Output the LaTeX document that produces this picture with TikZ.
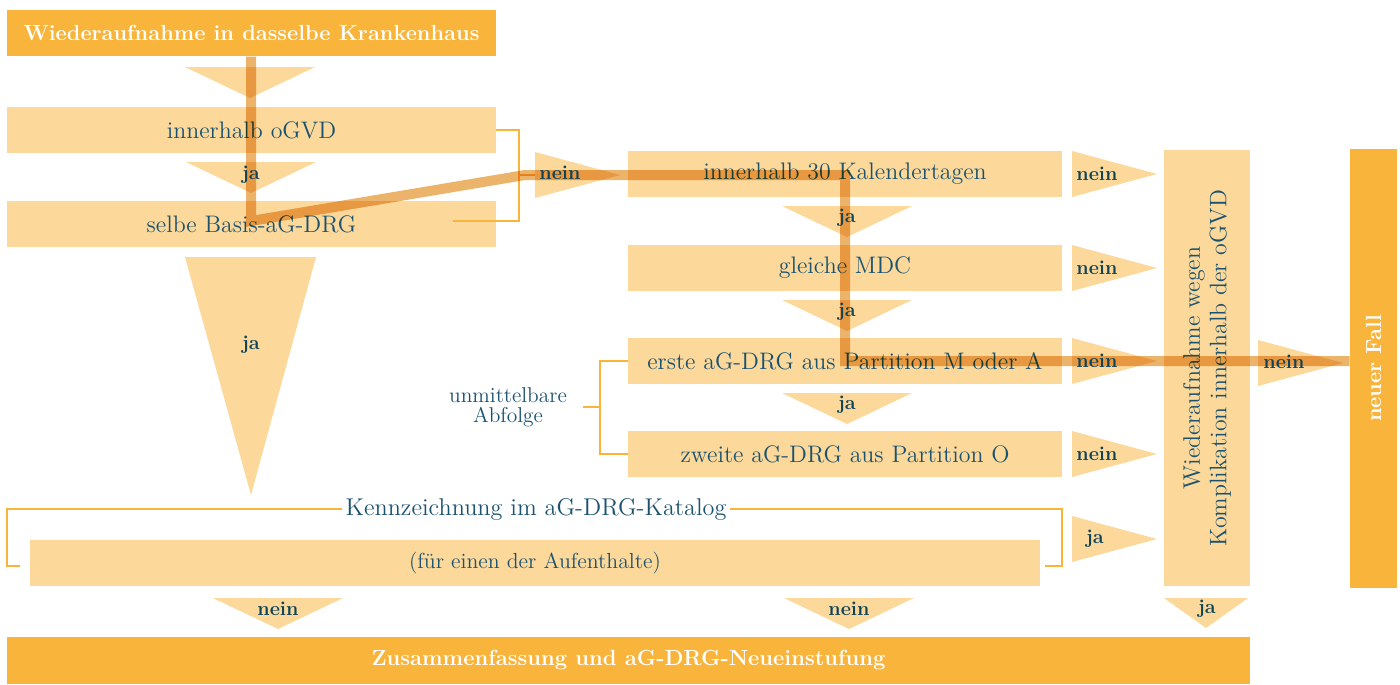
\documentclass[tikz,border=0pt]{standalone}
\usepackage{tikz}
\usetikzlibrary{positioning}
\usepackage{xcolor}

\definecolor{hell}{HTML}{FCD89A}
\definecolor{dunkel}{HTML}{F9B43B}
\definecolor{schrift}{HTML}{1A5270}
\definecolor{marke}{HTML}{0D4257}
\definecolor{pfad}{HTML}{EBB46A}

\begin{document}
\begin{tikzpicture}[x=0.02cm,y=-0.02cm,
  hbox/.style={fill=hell, text=schrift, minimum height=0.92cm, inner sep=0pt, font=\fontsize{13.6}{15}\selectfont},
  dbox/.style={fill=dunkel, text=white, minimum height=0.93cm, inner sep=0pt, font=\fontsize{12.4}{15}\selectfont\bfseries},
  lab/.style={text=marke, inner sep=0pt, font=\fontsize{11.3}{13}\selectfont\bfseries},
  klammer/.style={draw=dunkel, line width=0.05cm}]

\useasboundingbox (0,0) rectangle (1400,684);

%Dreiecke
\newcommand\runter[3]{\fill[hell] (#1-65,#2) -- (#1+65,#2) -- (#1,#2+31) -- cycle;}
\newcommand\rechts[2]{\fill[hell] (#1,#2-23) -- (#1,#2+23) -- (#1+85,#2) -- cycle;}

\runter{250}{67}{}
\runter{251}{162}{}
\fill[hell] (185,257) -- (316,257) -- (251,495) -- cycle;
\runter{847}{206}{}
\runter{847}{300}{}
\runter{847}{393}{}
\runter{278}{598}{}
\runter{849}{598}{}
\fill[hell] (1164,598) -- (1248,598) -- (1206,628) -- cycle;

\rechts{535}{175}
\foreach \y in {174,268,361,454,539} {\rechts{1072}{\y}}
\rechts{1258}{363}

%Kaesten
\node[dbox, minimum width=9.78cm] (haus) at (251.5,33) {Wiederaufnahme in dasselbe Krankenhaus};
\node[hbox, minimum width=9.78cm] (ogvd) at (251.5,130) {innerhalb oGVD};
\node[hbox, minimum width=9.78cm] (basis) at (251.5,224) {selbe Basis-aG-DRG};

\node[hbox, minimum width=8.68cm] (tage) at (845,174) {innerhalb 30 Kalendertagen};
\node[hbox, minimum width=8.68cm] (mdc) at (845,268) {gleiche MDC};
\node[hbox, minimum width=8.68cm] (erste) at (845,361) {erste aG-DRG aus Partition M oder A};
\node[hbox, minimum width=8.68cm] (zweite) at (845,454) {zweite aG-DRG aus Partition O};

\node[hbox, minimum width=20.2cm] (aufenthalt) at (535,563) {\fontsize{12.4}{13}\selectfont(für einen der Aufenthalte)};
\node[dbox, minimum width=24.86cm, font=\fontsize{12.5}{15}\selectfont\bfseries] (neu) at (628.5,660.5) {Zusammenfassung und aG-DRG-Neueinstufung};

\node[hbox, rotate=90, minimum width=8.72cm, minimum height=1.72cm, align=center] (kompl) at (1207,368)
  {Wiederaufnahme wegen\\Komplikation innerhalb der oGVD};
\node[dbox, rotate=90, minimum width=8.78cm, minimum height=0.94cm] (fall) at (1373.5,368.5) {neuer Fall};

%Klammern
\node[text=schrift, inner sep=2pt, font=\fontsize{13.8}{15}\selectfont] (kenn) at (536,509) {Kennzeichnung im aG-DRG-Katalog};
\draw[klammer] (kenn.west) -- (7,509) -- (7,566) -- (20,566);
\draw[klammer] (kenn.east) -- (1062,509) -- (1062,566) -- (1045,566);

\draw[klammer] (ogvd.east) -- (519,130) -- (519,221) -- (453,221);
\draw[klammer] (519,175) -- (535,175);

\node[text=schrift, align=center, font=\fontsize{12.2}{11.5}\selectfont] (abfolge) at (508,407) {unmittelbare\\Abfolge};
\draw[klammer] (erste.west) -- (600,361) -- (600,454) -- (zweite.west);
\draw[klammer] (583,407) -- (600,407);

%Pfad
\coordinate (p1) at (haus.south -| 251,0);
\coordinate (p2) at (0,361 -| fall.north);
\draw[pfad, line width=0.2cm, blend mode=multiply] (p1) -- (251,221) -- (525,175) -- (845,175) -- (845,361) -- (p2);

%Beschriftung
\node[lab] at (251,175) {ja};
\node[lab] at (251,345) {ja};
\node[lab] at (847,218) {ja};
\node[lab] at (847,312) {ja};
\node[lab] at (847,405) {ja};
\node[lab] at (278,609) {nein};
\node[lab] at (849,609) {nein};
\node[lab] at (1207,609) {ja};
\node[lab] at (560,173) {nein};
\foreach \y in {174,268,361,454} {\node[lab] at (1097,\y) {nein};}
\node[lab] at (1095,539) {ja};
\node[lab] at (1284,362) {nein};

\end{tikzpicture}
\end{document}
